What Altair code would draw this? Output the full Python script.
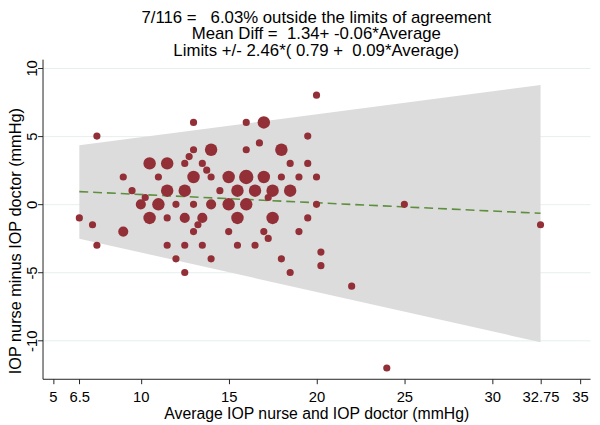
import altair as alt
import pandas as pd

# ---- data ----
avg = [
    20,
    13, 16, 17,
    7.5, 19.5,
    16.75,
    13, 14, 16, 18,
    12.75,
    10.5, 11.5, 12.5, 13.5, 18.5, 19.5,
    13.75,
    9, 11, 13, 14, 15, 16, 17, 18, 19, 20,
    9.5, 11.5, 12.5, 14.5, 15.5, 16.5, 17.5, 18.5,
    10.25, 17.25,
    10, 11, 12, 13, 14, 15, 16, 20, 25,
    6.5, 10.5, 11.5, 12.5, 13.5, 15.5, 17.5, 19.5,
    7.25, 13.25, 32.75,
    9, 13, 15, 17, 19,
    17.25,
    7.5, 11.5, 12.5, 13.5, 15.5, 16.5,
    20.25,
    12, 14, 18,
    20.25,
    12.5, 18.5,
    22,
    24,
]
diff = (
    [8]
    + [6] * 3
    + [5] * 2
    + [4.5]
    + [4] * 4
    + [3.5]
    + [3] * 6
    + [2.5]
    + [2] * 10
    + [1] * 8
    + [0.5] * 2
    + [0] * 9
    + [-1] * 8
    + [-1.5] * 3
    + [-2] * 5
    + [-2.5]
    + [-3] * 6
    + [-3.5]
    + [-4] * 3
    + [-4.5]
    + [-5] * 2
    + [-6]
    + [-12]
)
w = (
    [1]
    + [1, 1, 3]
    + [1, 1]
    + [1]
    + [1, 3, 1, 3]
    + [1]
    + [3, 3, 1, 1, 1, 1]
    + [1]
    + [1, 1, 3, 1, 3, 4, 3, 1, 1, 1]
    + [1, 3, 3, 1, 3, 3, 3, 3]
    + [1, 1]
    + [2, 3, 1, 1, 2, 3, 3, 1, 1]
    + [1, 3, 1, 2, 2, 3, 3, 1]
    + [1, 1, 1]
    + [2, 1, 1, 1, 1]
    + [1]
    + [1, 1, 1, 1, 1, 1]
    + [1]
    + [1, 1, 1]
    + [1]
    + [1, 1]
    + [1]
    + [1]
)

band_x = [6.5, 32.75]
band_hi = [4.33, 8.74]
band_lo = [-2.52, -10.11]
mean_y = [0.93, -0.66]

x_ticks = [5, 6.5, 10, 15, 20, 25, 30, 32.75, 35]
y_ticks = [-10, -5, 0, 5, 10]

title_lines = [
    "7/116 =\u00a0\u00a0 6.03% outside the limits of agreement",
    "Mean Diff =\u00a0 1.34+ -0.06*Average",
    "Limits +/- 2.46*( 0.79 +\u00a0 0.09*Average)",
]
x_title = "Average IOP nurse and IOP doctor (mmHg)"
y_title = "IOP nurse minus IOP doctor (mmHg)"

points = pd.DataFrame({"avg": avg, "diff": diff, "w": w})
band = pd.DataFrame({"avg": band_x, "lo": band_lo, "hi": band_hi, "mean": mean_y})

FONT = "Liberation Sans"
W, H = 555, 324

xscale = alt.Scale(domain=[4.405, 35.567], nice=False, zero=False)
yscale = alt.Scale(domain=[-12.79, 10.64], nice=False, zero=False)

xaxis = alt.Axis(
    values=x_ticks, labelExpr="toString(datum.value)", grid=False,
    tickSize=5, labelPadding=6, labelFontSize=15, labelFont=FONT,
    labelColor="black", domainColor="#222222", tickColor="#222222",
    labelFlush=False, labelOverlap=False,
    title=x_title, titleFont=FONT, titleFontSize=16, titleFontWeight="normal",
    titleColor="black", titleX=W / 2, titleY=40, titleBaseline="alphabetic",
    titleAlign="center",
)
yaxis = alt.Axis(
    values=y_ticks, labelExpr="toString(datum.value)", grid=True,
    gridColor="#e6efef", gridWidth=1,
    tickSize=5, labelPadding=1, labelFontSize=15, labelFont=FONT,
    labelColor="black", domainColor="#222222", tickColor="#222222",
    labelAngle=270, labelAlign="center", labelBaseline="alphabetic",
    labelFlush=False, labelOverlap=False,
    title=y_title, titleFont=FONT, titleFontSize=16.5, titleFontWeight="normal",
    titleColor="black", titleX=-27.5, titleY=184, titleAngle=270,
    titleAlign="center", titleBaseline="middle",
)

x_enc = alt.X("avg:Q", scale=xscale, axis=xaxis)

band_layer = alt.Chart(band).mark_area(color="#dcdcdc", opacity=1).encode(
    x=x_enc,
    y=alt.Y("lo:Q", scale=yscale, axis=yaxis),
    y2="hi:Q",
)
mean_layer = alt.Chart(band).mark_line(
    color="#5e8f3e", strokeWidth=1.6, strokeDash=[9, 5]
).encode(
    x=x_enc,
    y=alt.Y("mean:Q", scale=yscale, axis=yaxis),
)
pts_layer = alt.Chart(points).mark_circle(color="#922f37", opacity=1).encode(
    x=x_enc,
    y=alt.Y("diff:Q", scale=yscale, axis=yaxis),
    size=alt.Size("w:Q", scale=alt.Scale(domain=[0, 4], range=[0, 212]), legend=None),
)

chart = (
    alt.layer(band_layer, mean_layer, pts_layer)
    .properties(
        width=W,
        height=H,
        title=alt.Title(
            text=title_lines, font=FONT, fontSize=17, fontWeight="normal",
            color="black", lineHeight=16.5, anchor="middle", baseline="bottom",
            offset=0, dy=17.5,
        ),
        padding={"left": 35, "top": 49, "right": 2, "bottom": 44},
        autosize=alt.AutoSizeParams(type="none"),
        background="white",
    )
    .configure_view(strokeWidth=0)
)

chart.save("out.html", embed_options={"renderer": "svg", "actions": False})
